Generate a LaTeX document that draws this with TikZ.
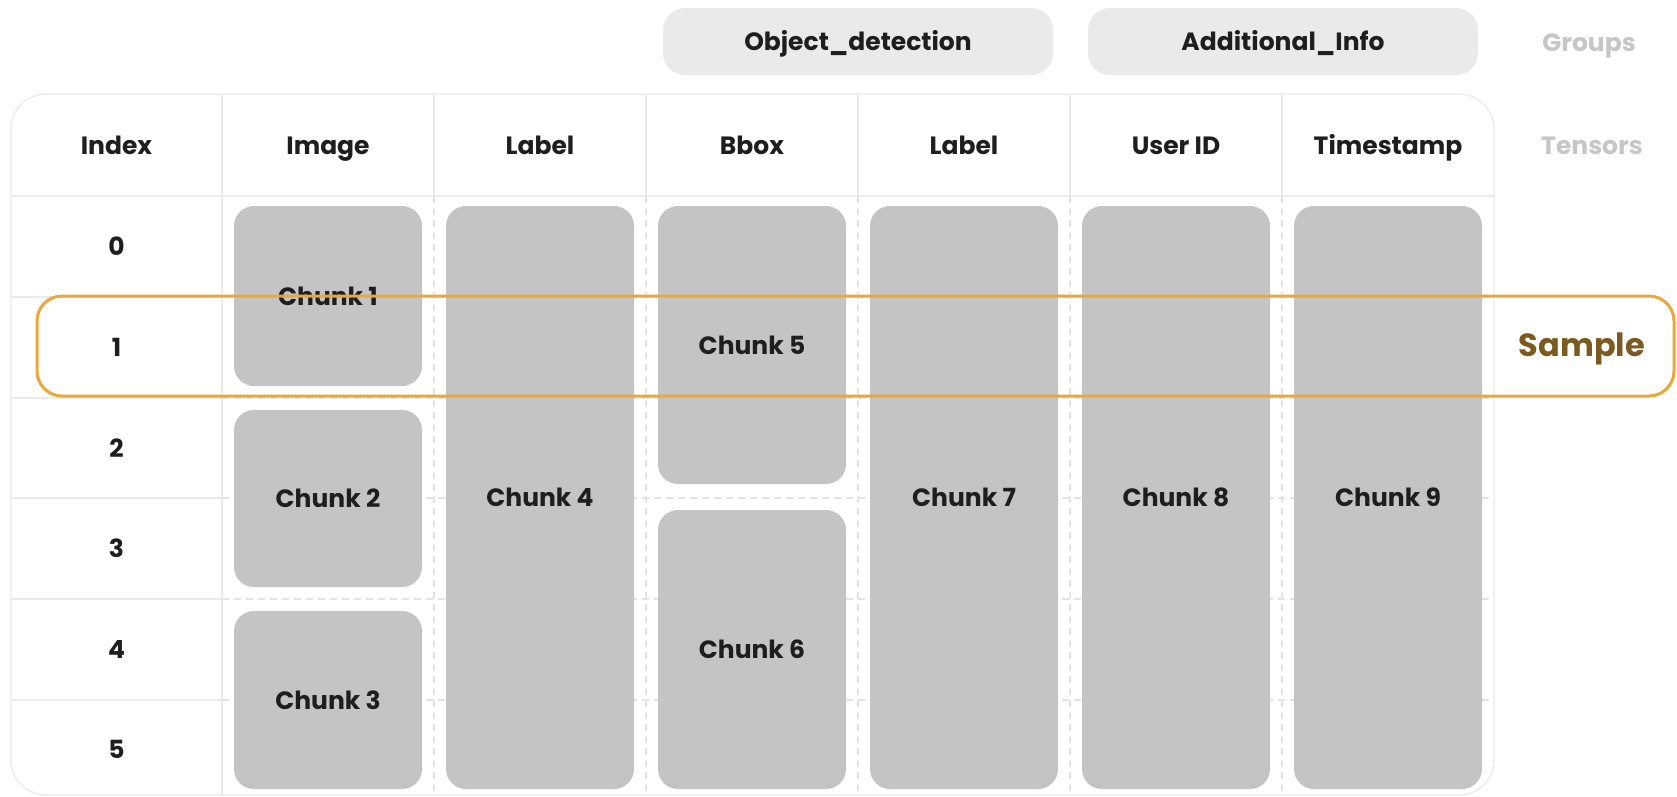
\documentclass[tikz,border=0pt]{standalone}
\usepackage{fontspec}
\setmainfont{Poppins}
\definecolor{chunkgray}{HTML}{C4C4C4}
\definecolor{groupgray}{HTML}{EAEAEA}
\definecolor{gridgray}{HTML}{EBEBEB}
\definecolor{dashgray}{HTML}{E3E3E3}
\definecolor{textdark}{HTML}{1E1E1E}
\definecolor{faint}{HTML}{C6C6C6}
\definecolor{sampleorange}{HTML}{E8A83E}
\definecolor{samplebrown}{HTML}{7B5A22}
\begin{document}
\begin{tikzpicture}[x=1pt,y=-1pt,
  lbl/.style={font=\fontsize{25}{30}\selectfont\bfseries, text=textdark, inner sep=0pt, text height=18pt, text depth=0pt},
  faintlbl/.style={font=\fontsize{25}{30}\selectfont\bfseries, text=faint, inner sep=0pt, text height=18pt, text depth=0pt},
  chunkbox/.style={fill=chunkgray, rounded corners=20pt, minimum width=188pt, inner sep=0pt,
     font=\fontsize{25}{30}\selectfont\bfseries, text=textdark, text height=18pt, text depth=0pt},
  groupbox/.style={fill=groupgray, rounded corners=22pt, minimum width=390pt, minimum height=67pt, inner sep=0pt,
     font=\fontsize{25}{30}\selectfont\bfseries, text=textdark, text height=18pt, text depth=0pt},
  gridline/.style={draw=gridgray, line width=1.3pt},
  dashline/.style={draw=dashgray, line width=1.2pt, dash pattern=on 7pt off 5pt}]
\useasboundingbox (0,0) rectangle (1677,796);
\fill[white] (0,0) rectangle (1677,796);

% table frame
\draw[gridline, fill=white, rounded corners=35pt] (11,94) rectangle (1494,795);
% header grid
\draw[gridline] (11,196) -- (1494,196);
\foreach \cx in {222,434,646,858,1070,1282} {\draw[gridline] (\cx,94) -- (\cx,196);}
% index column
\draw[gridline] (222,196) -- (222,795);
\foreach \ry in {297,398,498,599,700} {\draw[gridline] (11,\ry) -- (222,\ry);}
% body dashed grid
\foreach \cx in {434,646,858,1070,1282} {\draw[dashline] (\cx,196) -- (\cx,795);}
\foreach \ry in {297,398,498,599,700} {\draw[dashline] (222,\ry) -- (1494,\ry);}

% groups
\node[groupbox] (gobj) at (858,41.5) {Object\_detection};
\node[groupbox] (gadd) at (1283,41.5) {Additional\_Info};
\node[faintlbl] (groups) at (1589,42) {Groups};
\node[faintlbl] (tensors) at (1592,145) {Tensors};

% headers
\node[lbl] (hindex) at (116.5,145) {Index};
\node[lbl] (himage) at (328,145) {Image};
\node[lbl] (hlabel) at (540,145) {Label};
\node[lbl] (hbbox) at (752,145) {Bbox};
\node[lbl] (hlabelb) at (964,145) {Label};
\node[lbl] (huser) at (1176,145) {User ID};
\node[lbl] (htime) at (1388,145) {Timestamp};

% index numbers
\node[lbl] (i0) at (116.5,246) {0};
\node[lbl] (i1) at (116.5,347) {1};
\node[lbl] (i2) at (116.5,448) {2};
\node[lbl] (i3) at (116.5,548) {3};
\node[lbl] (i4) at (116.5,649) {4};
\node[lbl] (i5) at (116.5,749) {5};

% chunks
\node[chunkbox, minimum height=180pt] (c1) at (328,296) {Chunk 1};
\node[chunkbox, minimum height=177pt] (c2) at (328,498.5) {Chunk 2};
\node[chunkbox, minimum height=178pt] (c3) at (328,700) {Chunk 3};
\node[chunkbox, minimum height=583pt] (c4) at (540,497.5) {Chunk 4};
\node[chunkbox, minimum height=278pt] (c5) at (752,345) {Chunk 5};
\node[chunkbox, minimum height=279pt] (c6) at (752,649.5) {Chunk 6};
\node[chunkbox, minimum height=583pt] (c7) at (964,497.5) {Chunk 7};
\node[chunkbox, minimum height=583pt] (c8) at (1176,497.5) {Chunk 8};
\node[chunkbox, minimum height=583pt] (c9) at (1388,497.5) {Chunk 9};

% sample
\draw[draw=sampleorange, line width=3pt, rounded corners=25pt] (37,296) rectangle (1674,396);
\node[font=\fontsize{32}{36}\selectfont\bfseries, text=samplebrown, inner sep=0pt, text height=23pt, text depth=0pt] (sample) at (1582,345) {Sample};
\end{tikzpicture}
\end{document}
